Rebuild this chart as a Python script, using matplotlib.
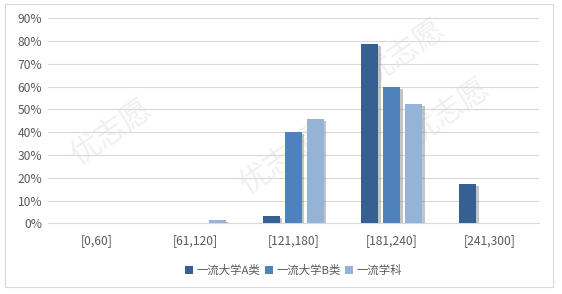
import numpy as np
import matplotlib.pyplot as plt
import matplotlib.patheffects as pe
from matplotlib.patches import Rectangle
from matplotlib.ticker import FuncFormatter

plt.rcParams['font.family'] = ['Noto Sans CJK SC', 'DejaVu Sans']

categories = ['[0,60]', '[61,120]', '[121,180]', '[181,240]', '[241,300]']
series_names = ['一流大学A类', '一流大学B类', '一流学科']
vals_a = [0.1, 0.1, 3.0, 78.6, 17.2]
vals_b = [0.0, 0.0, 39.9, 59.8, 0.0]
vals_c = [0.1, 1.3, 45.8, 52.3, 0.2]
colors = ['#376092', '#4f81bd', '#95b3d7']

fig = plt.figure(figsize=(5.62, 2.94), dpi=100)
fig.patch.set_facecolor('white')

# outer frame
fig.patches.append(Rectangle((5 / 562, 1 - 287 / 294), 548 / 562, 283 / 294,
                             transform=fig.transFigure, fill=False,
                             edgecolor='#d9d9d9', linewidth=0.8))

# faint watermark, behind the chart
for (wx, wy) in [(0.2, 0.55), (0.5, 0.45), (0.8, 0.62), (0.72, 0.82)]:
    fig.text(wx, wy, '优志愿', fontsize=22, color='#f0f0f0', rotation=35,
             ha='center', va='center', zorder=-5)

ax = fig.add_axes([48 / 562, 1 - 223.3 / 294, 491 / 562, 205 / 294])
ax.set_zorder(2)
ax.patch.set_alpha(0)

x = np.arange(len(categories))
w = 0.173
step = 0.224
shadow = [pe.SimplePatchShadow(offset=(1.8, -1.2), shadow_rgbFace='#7f7f7f', alpha=0.45),
          pe.Normal()]
for i, (vals, name) in enumerate(zip([vals_a, vals_b, vals_c], series_names)):
    bars = ax.bar(x + (i - 1) * step, vals, width=w, color=colors[i], label=name, zorder=3)
    for b in bars:
        b.set_path_effects(shadow)

ax.set_ylim(0, 90)
ax.set_xlim(-0.5, len(categories) - 0.5)
ax.set_yticks(np.arange(0, 91, 10))
ax.yaxis.set_major_formatter(FuncFormatter(lambda v, p: f'{v:.0f}%'))
ax.set_xticks(x)
ax.set_xticklabels(categories)
ax.grid(axis='y', color='#d9d9d9', linewidth=0.8, zorder=0)
ax.set_axisbelow(True)
for s in ax.spines.values():
    s.set_visible(False)
ax.spines['bottom'].set_visible(True)
ax.spines['bottom'].set_color('#d9d9d9')
ax.tick_params(axis='both', length=0, labelsize=8.7, labelcolor='#595959')
ax.tick_params(axis='x', pad=8)
ax.tick_params(axis='y', pad=4)

leg = ax.legend(loc='center', bbox_to_anchor=(0.5, -0.23), ncol=3, frameon=False,
                fontsize=8.2, handlelength=0.7, handleheight=0.7, handletextpad=0.3,
                columnspacing=0.4)
for t in leg.get_texts():
    t.set_color('#595959')
for h in leg.legend_handles:
    h.set_path_effects([])

fig.savefig('out.png', dpi=100)
